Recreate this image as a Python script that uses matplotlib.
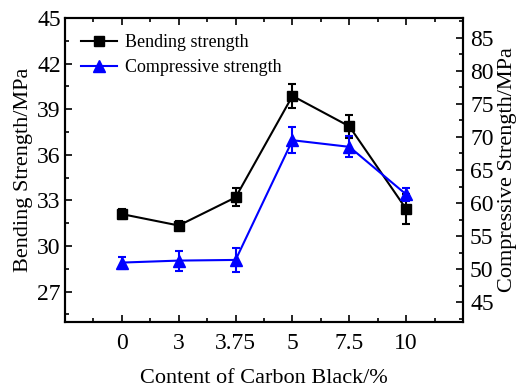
import numpy as np
import matplotlib.pyplot as plt
from matplotlib.lines import Line2D
from matplotlib.ticker import FixedLocator

plt.rcParams['font.family'] = ['Liberation Serif', 'DejaVu Serif']

# 데이터
carbon_black = ['0', '3', '3.75', '5', '7.5', '10']
bending = [32.1, 31.35, 33.2, 39.87, 37.87, 32.43]
bending_err = [0.35, 0.3, 0.6, 0.8, 0.75, 1.0]
compressive = [51.0, 51.3, 51.4, 69.5, 68.5, 61.3]
compressive_err = [0.9, 1.5, 1.8, 2.0, 1.6, 1.0]

x = np.arange(1, len(carbon_black) + 1)

fig = plt.figure(figsize=(5.18, 3.89), dpi=100)
ax = fig.add_axes([0.1255, 0.172, 0.7685, 0.782])
ax2 = ax.twinx()

ax.errorbar(x, bending, yerr=bending_err, color='black', marker='s',
            markersize=7.5, linewidth=1.5, capsize=3, capthick=1.5,
            elinewidth=1.5)
ax2.errorbar(x, compressive, yerr=compressive_err, color='blue', marker='^',
             markersize=8.5, linewidth=1.5, capsize=3, capthick=1.5,
             elinewidth=1.5)

ax.set_xlim(0, 7)
ax.set_ylim(25, 45)
ax2.set_ylim(42, 88)

ax.set_xticks(x)
ax.set_xticklabels(carbon_black)
ax.xaxis.set_minor_locator(FixedLocator(np.arange(0.5, 7, 1.0)))
ax.yaxis.set_major_locator(FixedLocator(np.arange(27, 46, 3)))
ax.yaxis.set_minor_locator(FixedLocator(np.arange(25.5, 45, 1.5)))
ax2.yaxis.set_major_locator(FixedLocator(np.arange(45, 86, 5)))
ax2.yaxis.set_minor_locator(FixedLocator(np.arange(42.5, 88, 2.5)))

ax.tick_params(axis='x', which='both', direction='in', top=True, labelsize=17, pad=8)
ax.tick_params(axis='y', which='both', direction='in', right=False, labelsize=17, pad=3)
ax2.tick_params(axis='y', which='both', direction='in', labelsize=17, pad=5)
for a in (ax, ax2):
    a.tick_params(which='major', length=5, width=1.2)
    a.tick_params(which='minor', length=3, width=1.2)
    for sp in a.spines.values():
        sp.set_linewidth(1.5)

ax.set_xlabel('Content of Carbon Black/%', fontsize=16, labelpad=11)
ax.set_ylabel('Bending Strength/MPa', fontsize=16, labelpad=3)
ax2.set_ylabel('Compressive Strength/MPa', fontsize=16, labelpad=3)

h1 = Line2D([], [], color='black', marker='s', markersize=7.5, linewidth=1.5)
h2 = Line2D([], [], color='blue', marker='^', markersize=8.5, linewidth=1.5)
ax.legend([h1, h2], ['Bending strength', 'Compressive strength'],
          loc='upper left', frameon=False, fontsize=13, handlelength=2.0,
          handletextpad=0.4, borderaxespad=0.5, labelspacing=0.45)

fig.savefig('out.png', dpi=100)
